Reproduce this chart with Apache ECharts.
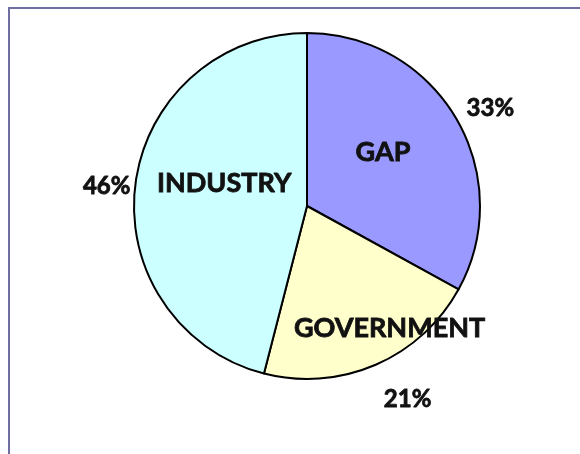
<!DOCTYPE html>
<html>
<head>
<meta charset="utf-8">
<script src="https://cdn.jsdelivr.net/npm/echarts@6/dist/echarts.min.js"></script>
<style>
  html, body { margin: 0; padding: 0; background: #fff; }
  #chart { width: 580px; height: 454px; }
</style>
</head>
<body>
<div id="chart"></div>
<script>
// slice names and shares (%), clockwise from 12 o'clock
var names = ['GAP', 'GOVERNMENT', 'INDUSTRY'];
var shares = [33, 21, 46];
var colors = ['#9999FF', '#FFFFCC', '#CCFFFF'];

// nudges for the labels (they sit off the centroid in the original)
var nameShift = { GAP: [-1, -8], GOVERNMENT: [47, 40], INDUSTRY: [6, -11] };
var pctShift = { GAP: [0, 11], GOVERNMENT: [16, -2], INDUSTRY: [11, 7] };

var font = 'Lato, "Open Sans", sans-serif';

var myChart = echarts.init(document.getElementById('chart'));

var pieData = names.map(function (n, i) {
  return { name: n, value: shares[i], itemStyle: { color: colors[i] } };
});

var option = {
  animation: false,
  backgroundColor: '#ffffff',
  graphic: [{
    type: 'rect',
    shape: { x: 9, y: 8, width: 640, height: 520 },
    style: { fill: null, stroke: '#6E6EA2', lineWidth: 2 },
    silent: true
  }],
  series: [
    {
      // the pie itself with the names
      type: 'pie',
      center: [307, 206],
      radius: 173,
      startAngle: 90,
      clockwise: true,
      data: pieData,
      itemStyle: { borderColor: '#000', borderWidth: 2 },
      label: {
        position: 'inside',
        formatter: '{b}',
        color: '#111',
        fontFamily: font,
        fontWeight: 'bold',
        fontSize: 27,
        textBorderColor: '#111',
        textBorderWidth: 0.8
      },
      labelLayout: function (params) {
        var s = nameShift[names[params.dataIndex]];
        return { dx: s[0], dy: s[1] };
      },
      labelLine: { show: false },
      emphasis: { disabled: true }
    },
    {
      // invisible ring just to place the percent labels outside
      type: 'pie',
      center: [307, 206],
      radius: [190, 230],
      startAngle: 90,
      clockwise: true,
      silent: true,
      data: pieData.map(function (d) {
        return { name: d.name, value: d.value };
      }),
      itemStyle: { color: 'rgba(0,0,0,0)', borderWidth: 0 },
      label: {
        position: 'inside',
        formatter: '{c}%',
        color: '#111',
        fontFamily: font,
        fontWeight: 'bold',
        fontSize: 24,
        textBorderColor: '#111',
        textBorderWidth: 0.8
      },
      labelLayout: function (params) {
        var s = pctShift[names[params.dataIndex]];
        return { dx: s[0], dy: s[1] };
      },
      labelLine: { show: false },
      emphasis: { disabled: true }
    }
  ]
};

myChart.setOption(option);
</script>
</body>
</html>
